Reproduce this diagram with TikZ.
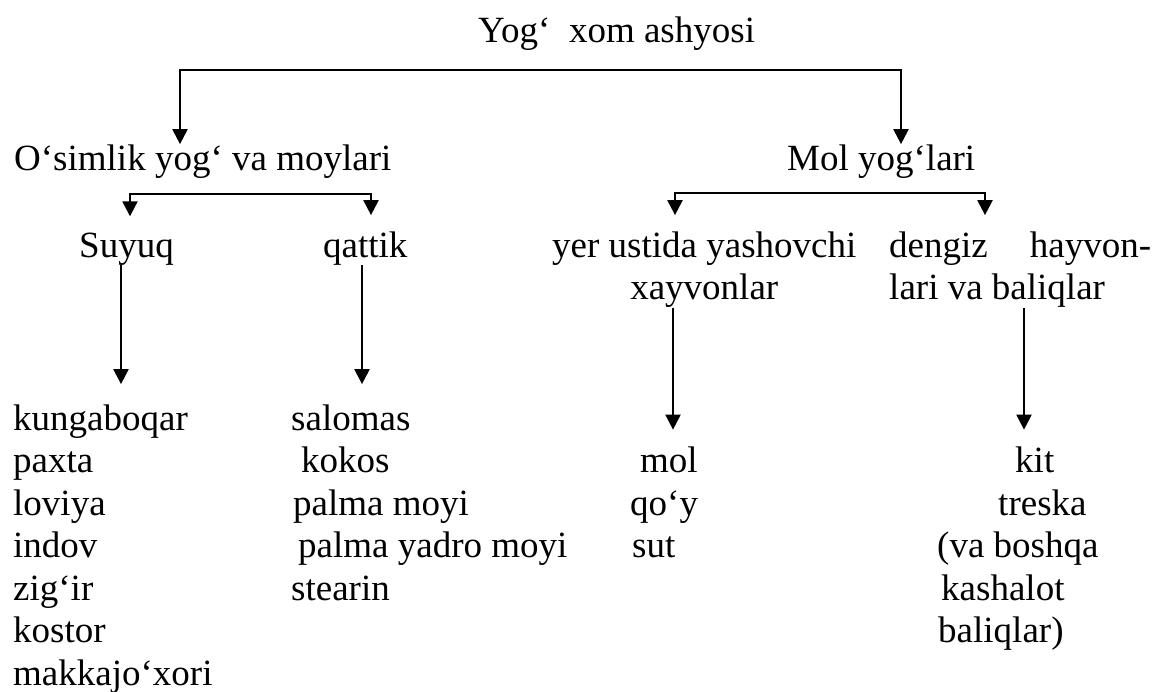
\documentclass[tikz,border=0pt]{standalone}
\usepackage{fontspec}
\setmainfont{Liberation Serif}
\usetikzlibrary{arrows.meta}

\begin{document}
\begin{tikzpicture}[x=1pt,y=-1pt,
    every node/.style={inner sep=0pt, anchor=base west, font=\fontsize{37}{42.5}\selectfont},
    arr/.style={line width=2.2pt, -{Triangle[width=15pt,length=15pt]}},
    fork/.style={line width=2.2pt, {Triangle[width=15pt,length=15pt]}-{Triangle[width=15pt,length=15pt]}}
]
\useasboundingbox (0,0) rectangle (1155,691);

\node (root) at (478,42) {Yog‘\ \ xom ashyosi};
\node (osim) at (14,170) {O‘simlik yog‘ va moylari};
\node (mol) at (787,170) {Mol yog‘lari};

\node (suyuq) at (79,257) {Suyuq};
\node (qattik) at (323,257) {qattik};
% two-line nodes sit on their last baseline
\node[align=center] (yer) at (552,299.5) {yer ustida yashovchi\\xayvonlar};
\node[align=left] (dengiz) at (889,299.5) {\makebox[262pt][s]{dengiz hayvon-}\\lari va baliqlar};

% lists
\foreach \t [count=\i from 0] in {kungaboqar, paxta, loviya, indov, zig‘ir, kostor, makkajo‘xori}
    \node (a\i) at (13,430+42.5*\i) {\t};
\foreach \x/\t [count=\i from 0] in {291/salomas, 301/kokos, 293/palma moyi, 298/palma yadro moyi, 291/stearin}
    \node (b\i) at (\x,430+42.5*\i) {\t};
\foreach \x/\t [count=\i from 0] in {640/mol, 630/qo‘y, 632/sut}
    \node (c\i) at (\x,472.5+42.5*\i) {\t};
\foreach \x/\t [count=\i from 0] in {1015/kit, 998/treska, 937/{(va boshqa}, 941/kashalot, 938/{baliqlar)}}
    \node (d\i) at (\x,472.5+42.5*\i) {\t};

\coordinate (p1) at (180,70);
\coordinate (p2) at (901,70);
\coordinate (p3) at (130,194);
\coordinate (p4) at (371,194);
\coordinate (p5) at (675,193);
\coordinate (p6) at (985,193);

\draw[fork] (p1 |- osim.north) -- (p1) -- (p2) -- (p2 |- mol.north);
\draw[fork, shorten <=16pt, shorten >=16pt] (p3 |- suyuq.north) -- (p3) -- (p4) -- (p4 |- qattik.north);
\draw[fork, shorten <=16pt, shorten >=16pt] (p5 |- yer.north) -- (p5) -- (p6) -- (p6 |- dengiz.north);

\coordinate (v1) at (121,0);
\coordinate (v2) at (362,0);
\coordinate (v3) at (673,0);
\coordinate (v4) at (1024,0);

\draw[arr, shorten >=20pt] (v1 |- suyuq.south) -- (v1 |- a0.north);
\draw[arr, shorten >=20pt] (v2 |- qattik.south) -- (v2 |- b0.north);
\draw[arr, shorten >=17pt] (v3 |- yer.south) -- (v3 |- c0.north);
\draw[arr, shorten >=17pt] (v4 |- dengiz.south) -- (v4 |- d0.north);
\end{tikzpicture}
\end{document}
